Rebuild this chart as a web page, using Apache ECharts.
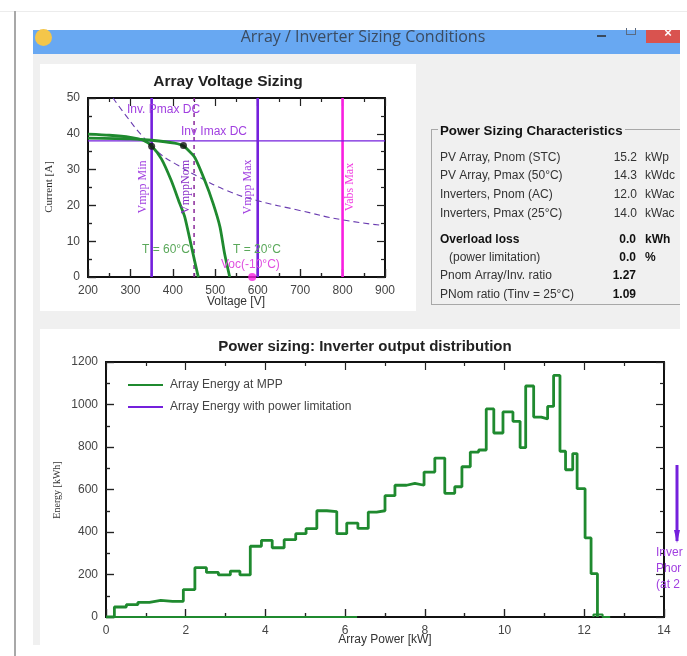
<!DOCTYPE html>
<html><head><meta charset="utf-8">
<script src="https://cdn.jsdelivr.net/npm/echarts@6/dist/echarts.min.js"></script>
<style>
html,body{margin:0;padding:0;background:#fff;overflow:hidden}
#wrap{position:relative;width:687px;height:656px;filter:blur(0.45px)}
.b{position:absolute}
#chart{position:absolute;left:0;top:0;width:687px;height:656px}
</style></head><body>
<div id="wrap">
<div class="b" style="left:0;top:11px;width:687px;height:1px;background:#ececec"></div>
<div class="b" style="left:14px;top:11px;width:2px;height:645px;background:#a8a8a8"></div>
<div class="b" style="left:33px;top:54px;width:647px;height:591px;background:#f0f0f0"></div>
<div class="b" style="left:33px;top:30px;width:647px;height:24px;background:#68a8f2"></div>
<div class="b" style="left:646px;top:30px;width:34px;height:13px;background:#d9534f"></div>
<div class="b" style="left:626px;top:28px;width:10px;height:7px;border:1px solid #5a6a80;border-top:0;box-sizing:border-box"></div>
<div class="b" style="left:597px;top:35px;width:9px;height:2px;background:#3a4a5e"></div>
<div class="b" style="left:35px;top:29px;width:17px;height:17px;border-radius:50%;background:#f4c64a"></div>
<div class="b" style="left:40px;top:64px;width:376px;height:247px;background:#fff"></div>
<div class="b" style="left:40px;top:329px;width:640px;height:316px;background:#fff"></div>
<div class="b" style="left:431px;top:129px;width:249px;height:176px;border:1px solid #a8a8a8;border-right:0;box-sizing:border-box"></div>
<div class="b" style="left:438px;top:124px;width:187px;height:12px;background:#f0f0f0"></div>
<div id="chart"></div>
</div>
<script>
// Array Voltage Sizing
const voltageTicks = [200, 900];
const currentRange = [0, 50];
const curveT60 = [[200,39.9],[250,39.6],[300,39.0],[330,38.2],[350,36.6],[373,33],[396,27],[416,20.6],[428,16.8],[444,8.4],[459,0.5],[461,0]];
const curveT20 = [[200,38.8],[300,38.6],[350,38.2],[404,37.4],[425,36.6],[451,33.5],[475,27],[495,20.5],[511,14],[522,6.5],[534,0]];
const pmaxCurve = [[259,50],[290,45],[330,39.1],[369,34.5],[412,31.2],[460,28],[526,24.2],[597,21.4],[699,18.6],[798,16],[896,14.4]];
const vmppMin = 350, vmppNom = 450, vmppMax = 600, vabsMax = 800, invImax = 38;
const mppPoints = [[350,36.5],[425,36.7]];
const vocPoint = [[587,0]];

// Power sizing distribution
const powerEdges = [0,0.21,0.51,0.8,1.09,1.375,1.67,1.94,2.23,2.52,2.82,3.12,3.36,3.62,3.9,4.17,4.47,4.76,5.02,5.29,5.54,5.79,6.04,6.32,6.58,6.79,7.0,7.25,7.54,7.75,7.98,8.25,8.5,8.75,8.93,9.14,9.35,9.54,9.73,9.96,10.21,10.39,10.53,10.73,10.92,11.08,11.23,11.39,11.53,11.71,11.82,12.02,12.17,12.33];
const energyValues = [0,47,58,69,78,74,74,129,232,210,198,216,198,333,361,326,364,392,416,500,496,392,442,417,494,500,571,620,629,620,682,748,582,613,707,776,786,979,866,965,921,797,1087,941,932,991,1137,780,693,769,604,372,204];
const baselineGreen = [[0,0],[6.3,0]];
const tailGreen = [[12.23,0],[12.23,12],[12.46,12],[12.46,0],[12.65,0]];
const seriesNames = ['Array Energy at MPP','Array Energy with power limitation'];

const panelLines = [
 ['PV Array, Pnom (STC)','15.2','kWp',158],
 ['PV Array, Pmax (50°C)','14.3','kWdc',176],
 ['Inverters, Pnom (AC)','12.0','kWac',195],
 ['Inverters, Pmax (25°C)','14.0','kWac',214]];

const stepData = powerEdges.map((x,i)=>[x, i<energyValues.length?energyValues[i]:0]);
const GREEN='#1f8a2f', PURPLE='#7420dc', MAG='#f81fe0', LBL='#a13fe0', TXT='#333', SANS='"Liberation Sans",Arial,sans-serif', SERIF='"Liberation Serif",serif';

function axisCommon(min,max,interval,pos,showLabel,gi,hasTick){
  return {type:'value',gridIndex:gi,min,max,interval,position:pos,
    axisLine:{show:true,onZero:false,lineStyle:{color:'#111',width:2}},
    axisTick:{show:hasTick,inside:true,length:8,lineStyle:{color:'#222',width:1.2}},
    minorTick:{show:hasTick,splitNumber:2,length:4,lineStyle:{color:'#222',width:1.2}},
    splitLine:{show:false},minorSplitLine:{show:false},
    axisLabel:{show:showLabel,color:'#444',fontSize:12,fontFamily:SANS,margin:8,formatter:v=>String(v)}};
}
function vline(x,color,width,type){
  return {type:'line',xAxisIndex:0,yAxisIndex:0,data:[[x,currentRange[0]],[x,currentRange[1]]],symbol:'none',silent:true,
    lineStyle:{color,width,type:type||'solid'}};
}
function t(text,x,y,o){
  o=o||{};
  return {type:'text',x,y,rotation:o.rot||0,z:20,silent:true,style:{text,fill:o.fill||TXT,
    font:(o.bold?'bold ':'')+(o.size||12)+'px '+(o.fam||SANS),
    align:o.align||'left',verticalAlign:'middle'}};
}
const texts=[
 t('Array / Inverter Sizing Conditions',363,37,{align:'center',size:16,fill:'#3b4b60',fam:'"Open Sans",sans-serif'}),
 t('×',668,33,{align:'center',size:13,fill:'#fff',bold:true}),
 t('Inv. Pmax DC',127,110,{fill:LBL}),
 t('Inv Imax DC',181,132,{fill:LBL}),
 t('Vmpp Min',143,187,{rot:Math.PI/2,align:'center',fill:LBL,fam:SERIF}),
 t('VmppNom',186,187,{rot:Math.PI/2,align:'center',fill:'#8a30c8',fam:SERIF}),
 t('Vmpp Max',248,187,{rot:Math.PI/2,align:'center',fill:LBL,fam:SERIF}),
 t('Vabs Max',350,187,{rot:Math.PI/2,align:'center',fill:'#f040e0',fam:SERIF}),
 t('T = 60°C',142,250,{fill:'#5aa85a'}),
 t('T = 20°C',233,250,{fill:'#5aa85a'}),
 t('Voc(-10°C)',221,265,{fill:'#e050e0'}),
 t('Current [A]',49,187,{rot:Math.PI/2,align:'center',size:11,fam:SERIF}),
 t('Voltage [V]',236,302,{align:'center'}),
 t('Energy [kWh]',57,490,{rot:Math.PI/2,align:'center',size:10,fam:SERIF}),
 t('Array Power [kW]',385,640,{align:'center'}),
 t('Power Sizing Characteristics',440,131,{bold:true,size:13.3,fill:'#111'}),
 t('Overload loss',440,240,{bold:true,fill:'#111'}),
 t('0.0',636,240,{bold:true,align:'right',fill:'#111'}),
 t('kWh',645,240,{bold:true,fill:'#111'}),
 t('(power limitation)',449,258),
 t('0.0',636,258,{bold:true,align:'right',fill:'#111'}),
 t('%',645,258,{bold:true,fill:'#111'}),
 t('Pnom Array/Inv. ratio',440,276),
 t('1.27',636,276,{bold:true,align:'right',fill:'#111'}),
 t('PNom ratio (Tinv = 25°C)',440,295),
 t('1.09',636,295,{bold:true,align:'right',fill:'#111'}),
 t('Inver',656,553,{fill:LBL}),
 t('Phor',656,569,{fill:LBL}),
 t('(at 2',656,585,{fill:LBL}),
 {type:'line',z:20,silent:true,shape:{x1:677,y1:465,x2:677,y2:541},style:{stroke:PURPLE,lineWidth:3}},
 {type:'polygon',z:20,silent:true,shape:{points:[[674,530],[680,530],[677,543]]},style:{fill:PURPLE}}
];
panelLines.forEach(r=>{texts.push(t(r[0],440,r[3]),t(r[1],637,r[3],{align:'right'}),t(r[2],645,r[3]));});

const chart=echarts.init(document.getElementById('chart'),null,{renderer:'canvas'});
chart.setOption({
 animation:false,backgroundColor:'transparent',
 title:[
  {text:'Array Voltage Sizing',left:223,top:69,textAlign:'center',textStyle:{fontSize:15.5,fontWeight:'bold',color:'#222',fontFamily:SANS}},
  {text:'Power sizing: Inverter output distribution',left:360,top:334,textAlign:'center',textStyle:{fontSize:15,fontWeight:'bold',color:'#222',fontFamily:SANS}}
 ],
 grid:[{left:88,top:98,width:297,height:179},{left:106,top:362,width:558,height:255}],
 xAxis:[axisCommon(voltageTicks[0],voltageTicks[1],100,'bottom',true,0,true),axisCommon(voltageTicks[0],voltageTicks[1],100,'top',false,0,true),
        axisCommon(0,14,2,'bottom',true,1,true),axisCommon(0,14,2,'top',false,1,true),
        axisCommon(voltageTicks[0],voltageTicks[1],100,'bottom',false,0,true),axisCommon(0,14,2,'bottom',false,1,true)],
 yAxis:[axisCommon(currentRange[0],currentRange[1],10,'left',true,0,true),axisCommon(currentRange[0],currentRange[1],10,'right',false,0,true),
        axisCommon(0,1200,200,'left',true,1,true),axisCommon(0,1200,200,'right',false,1,true),
        axisCommon(currentRange[0],currentRange[1],10,'left',false,0,true),axisCommon(0,1200,200,'left',false,1,true)],
 legend:{show:true,orient:'vertical',left:123,top:374,itemWidth:35,itemHeight:2,itemGap:10,icon:'rect',
   data:seriesNames,textStyle:{color:'#444',fontSize:12,fontFamily:SANS,padding:[0,0,0,2]}},
 series:[
  vline(vmppMin,PURPLE,2.6),vline(vmppNom,'#8a2a9a',1.5,[4,4]),vline(vmppMax,PURPLE,2.6),vline(vabsMax,MAG,2.6),
  {type:'line',xAxisIndex:0,yAxisIndex:0,data:[[voltageTicks[0],invImax],[voltageTicks[1],invImax]],symbol:'none',silent:true,lineStyle:{color:PURPLE,width:1.2}},
  {type:'line',data:pmaxCurve,smooth:true,symbol:'none',silent:true,lineStyle:{color:'#6a3cb0',width:1.1,type:[6,4]}},
  {type:'line',data:curveT60,smooth:0.2,symbol:'none',silent:true,lineStyle:{color:GREEN,width:2.8}},
  {type:'line',data:curveT20,smooth:0.2,symbol:'none',silent:true,lineStyle:{color:GREEN,width:2.8}},
  {type:'scatter',data:mppPoints,symbolSize:7,silent:true,itemStyle:{color:'#111'},z:5},
  {type:'scatter',data:vocPoint,symbolSize:8,silent:true,clip:false,itemStyle:{color:MAG},z:6},
  {type:'line',name:seriesNames[1],xAxisIndex:2,yAxisIndex:2,data:stepData,step:'end',symbol:'none',silent:true,z:2,
    lineStyle:{color:PURPLE,width:1},itemStyle:{color:PURPLE}},
  {type:'line',name:seriesNames[0],xAxisIndex:2,yAxisIndex:2,data:stepData,step:'end',symbol:'none',silent:true,z:3,
    lineStyle:{color:GREEN,width:2.8},itemStyle:{color:GREEN}},
  {type:'line',xAxisIndex:2,yAxisIndex:2,data:baselineGreen,symbol:'none',silent:true,clip:false,z:4,lineStyle:{color:GREEN,width:2}},
  {type:'line',xAxisIndex:2,yAxisIndex:2,data:tailGreen,symbol:'none',silent:true,clip:false,z:4,lineStyle:{color:GREEN,width:2}}
 ],
 graphic:{elements:texts}
});
</script>
</body></html>
